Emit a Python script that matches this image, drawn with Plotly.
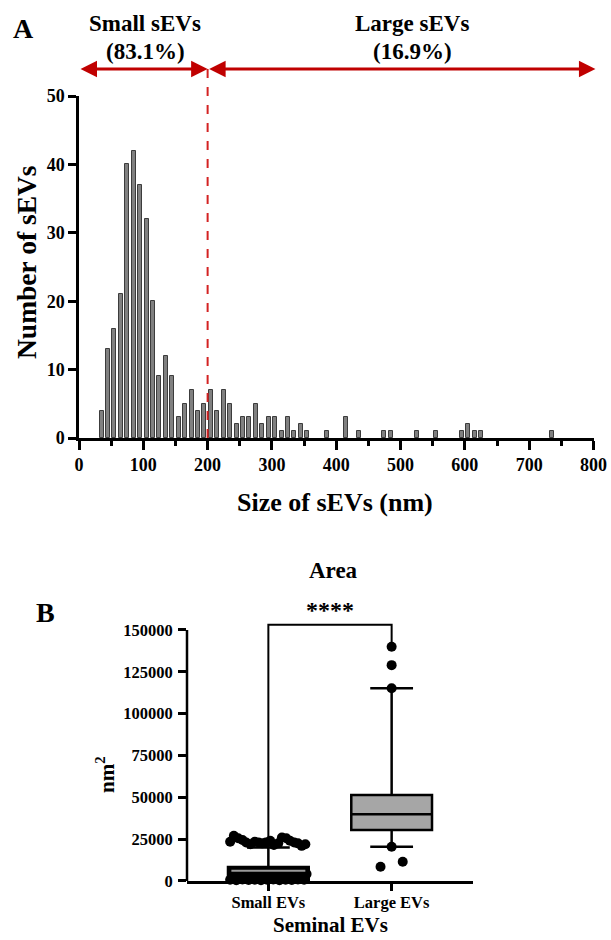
import plotly.graph_objects as go

# ---------------- Panel A data (histogram, bin width 10 nm) ----------------
bin_centers = [35, 45, 55, 65, 75, 85, 95, 105, 115, 125, 135, 145, 155, 165, 175, 185, 195,
               205, 215, 225, 235, 245, 255, 265, 275, 285, 295, 305, 315, 325, 335, 345, 355,
               385, 415, 435, 475, 485, 525, 555, 595, 605, 615, 625, 735]
counts = [4, 13, 16, 21, 40, 42, 37, 32, 20, 9, 12, 9, 3, 5, 7, 4, 5,
          7, 4, 7, 5, 2, 3, 3, 5, 2, 3, 3, 1, 3, 1, 2, 1,
          1, 3, 1, 1, 1, 1, 1, 1, 2, 1, 1, 1]
cutoff_nm = 200
x_ticks_a = [0, 100, 200, 300, 400, 500, 600, 700, 800]
y_ticks_a = [0, 10, 20, 30, 40, 50]

# ---------------- Panel B data (box plot) ----------------
categories = ["Small EVs", "Large EVs"]
cat_pos = [0, 1]
q1 = [300, 30500]
median = [6200, 39900]
q3 = [8400, 51400]
lower_fence = [0, 20500]
upper_fence = [20000, 115200]

large_pts_offset = [0.0, 0.0, 0.0, 0.0, -0.09, 0.09]
large_pts_y = [140000, 129000, 115200, 20500, 8500, 11500]

small_hi_offset = [-0.31, -0.28, -0.245, -0.21, -0.18, -0.145, -0.11, -0.08, -0.05, -0.02,
                   0.015, 0.045, 0.08, 0.11, 0.145, 0.175, 0.21, 0.24, 0.27, 0.30]
small_hi_y = [23500, 27000, 25500, 24500, 23000, 22000, 23500, 23000, 22500, 23000,
              24000, 21500, 22500, 26000, 25500, 24000, 23000, 22500, 21000, 22000]
small_lo_offset = [-0.31, -0.26, -0.21, -0.16, -0.11, -0.06, -0.01, 0.04, 0.09, 0.14, 0.19, 0.24, 0.29,
                   -0.28, -0.23, -0.18, -0.13, -0.08, -0.03, 0.02, 0.07, 0.12, 0.17, 0.22, 0.27, 0.31]
small_lo_y = [700, 500, 900, 600, 800, 400, 700, 900, 500, 800, 600, 900, 700,
              4200, 3800, 4500, 3600, 4000, 4400, 3700, 4100, 3900, 4300, 3600, 4000, 4200]
bracket_y = 153200
y_ticks_b = [0, 25000, 50000, 75000, 100000, 125000, 150000]

FONT = "Liberation Serif"
RED = "#c00000"
DASH_RED = "#d42222"
W, H = 611, 940

def px_x(p):
    return p / W

def px_y(p):
    return 1 - p / H

fig = go.Figure()

# Histogram bars
fig.add_trace(go.Bar(x=bin_centers, y=counts, width=6.2, xaxis="x", yaxis="y",
                     marker=dict(color="#808080", line=dict(color="#3c3c3c", width=1)),
                     showlegend=False))

# Box plots
for i in range(2):
    fig.add_trace(go.Box(x=[cat_pos[i]], q1=[q1[i]], median=[median[i]], q3=[q3[i]],
                         lowerfence=[lower_fence[i]], upperfence=[upper_fence[i]],
                         width=0.655, whiskerwidth=0.53,
                         fillcolor="#000000" if i == 0 else "#a6a6a6",
                         line=dict(color="black", width=2.5),
                         boxpoints=False, xaxis="x2", yaxis="y2", showlegend=False))

# Bracket
fig.add_trace(go.Scatter(x=[cat_pos[0], cat_pos[0], cat_pos[1], cat_pos[1]],
                         y=[upper_fence[0], bracket_y, bracket_y, large_pts_y[0]],
                         mode="lines", line=dict(color="black", width=2),
                         xaxis="x2", yaxis="y2", showlegend=False, hoverinfo="skip"))

# Small EVs points
fig.add_trace(go.Scatter(x=[cat_pos[0] + o for o in small_lo_offset], y=small_lo_y, mode="markers",
                         marker=dict(color="black", size=10), cliponaxis=False,
                         xaxis="x2", yaxis="y2", showlegend=False))
fig.add_trace(go.Scatter(x=[cat_pos[0] + o for o in small_hi_offset], y=small_hi_y, mode="markers",
                         marker=dict(color="black", size=10), cliponaxis=False,
                         xaxis="x2", yaxis="y2", showlegend=False))
# Small EVs median line (grey)
fig.add_trace(go.Scatter(x=[cat_pos[0] - 0.3, cat_pos[0] + 0.3], y=[median[0], median[0]],
                         mode="lines", line=dict(color="#9a9a9a", width=2),
                         xaxis="x2", yaxis="y2", showlegend=False, hoverinfo="skip"))
# Large EVs points
fig.add_trace(go.Scatter(x=[cat_pos[1] + o for o in large_pts_offset], y=large_pts_y, mode="markers",
                         marker=dict(color="black", size=10), cliponaxis=False,
                         xaxis="x2", yaxis="y2", showlegend=False))

tickfont_a = dict(family=FONT, size=18, color="black", weight="bold")
tickfont_b = dict(family=FONT, size=16.5, color="black", weight="bold")

fig.update_layout(
    width=W, height=H, margin=dict(l=0, r=0, t=0, b=0, autoexpand=False),
    paper_bgcolor="white", plot_bgcolor="white",
    font=dict(family=FONT, color="black", weight="bold"),
    bargap=0,
    xaxis=dict(domain=[px_x(79), px_x(593.5)], range=[0, 800], tickvals=x_ticks_a,
               ticks="outside", ticklen=9, tickwidth=2.5, showline=True, linewidth=2.5,
               linecolor="black", tickcolor="black", showgrid=False, zeroline=False,
               tickfont=tickfont_a, anchor="y", automargin=False,
               minor=dict(dtick=50, tick0=0, ticks="outside", ticklen=5, tickwidth=2.5,
                          tickcolor="black", showgrid=False)),
    yaxis=dict(domain=[px_y(438), px_y(96)], range=[0, 50], tickvals=y_ticks_a,
               ticks="outside", ticklen=8, tickwidth=2.5, showline=True, linewidth=2.5,
               linecolor="black", tickcolor="black", showgrid=False, zeroline=False,
               tickfont=tickfont_a, anchor="x", automargin=False),
    xaxis2=dict(domain=[px_x(187), px_x(473)], range=[-0.66, 1.66], tickvals=cat_pos,
                ticktext=categories, ticks="outside", ticklen=7, tickwidth=2.5,
                showline=True, linewidth=2.5, linecolor="black", tickcolor="black",
                showgrid=False, zeroline=False, tickfont=tickfont_b, anchor="y2",
                automargin=False, ticklabelstandoff=-3),
    yaxis2=dict(domain=[px_y(881), px_y(881 - 251 * 160000 / 150000)], range=[0, 160000],
                tickvals=y_ticks_b, ticktext=[str(v) for v in y_ticks_b],
                ticks="outside", ticklen=8, tickwidth=2.5, showline=False,
                tickcolor="black", showgrid=False, zeroline=False,
                tickfont=tickfont_b, anchor="x2", automargin=False, ticklabelstandoff=2),
)

# y2 axis line (0..150000)
fig.add_shape(type="line", xref="x2 domain", yref="y2", x0=0, x1=0, y0=0, y1=y_ticks_b[-1],
              line=dict(color="black", width=2.5))

# Dashed cutoff line
fig.add_shape(type="line", xref="x", yref="paper", x0=cutoff_nm, x1=cutoff_nm,
              y0=px_y(438), y1=px_y(69), line=dict(color=DASH_RED, width=2, dash="dash"))

# Arrows
for a, b in [(0, cutoff_nm), (cutoff_nm, 803)]:
    fig.add_annotation(x=b, y=px_y(69), xref="x", yref="paper", ax=a, ay=0, axref="x", ayref="pixel",
                       showarrow=True, arrowhead=2, startarrowhead=2, arrowside="end+start",
                       arrowsize=1.1, startarrowsize=1.1, arrowwidth=3, arrowcolor=RED,
                       standoff=0, startstandoff=0, text="")

def label(text, x, y, size, angle=0):
    fig.add_annotation(text=text, x=px_x(x), y=px_y(y), xref="paper", yref="paper",
                       showarrow=False, xanchor="center", yanchor="middle", textangle=angle,
                       font=dict(family=FONT, size=size, color="black", weight="bold"))

label("Small sEVs", 145, 23, 23)
label("(83.1%)", 145, 52, 23)
label("Large sEVs", 412, 23, 23)
label("(16.9%)", 412, 52, 23)
label("A", 23, 28, 28)
label("Size of sEVs (nm)", 335, 502, 26)
label("Number of sEVs", 26, 262, 27.5, angle=-90)

label("B", 45, 612, 28)
label("Area", 333, 570, 23)
label("Seminal EVs", 330, 925, 21)
label("nm<sup>2</sup>", 105, 775, 21, angle=-90)
fig.add_annotation(text="****", x=0.5, y=bracket_y, xref="x2", yref="y2", showarrow=False,
                   xanchor="center", yanchor="bottom", yshift=0,
                   font=dict(family=FONT, size=24, color="black", weight="bold"))

fig.write_html("out.html", config={"displayModeBar": False},
               post_script="document.body.style.margin='0';document.body.style.padding='0';")
